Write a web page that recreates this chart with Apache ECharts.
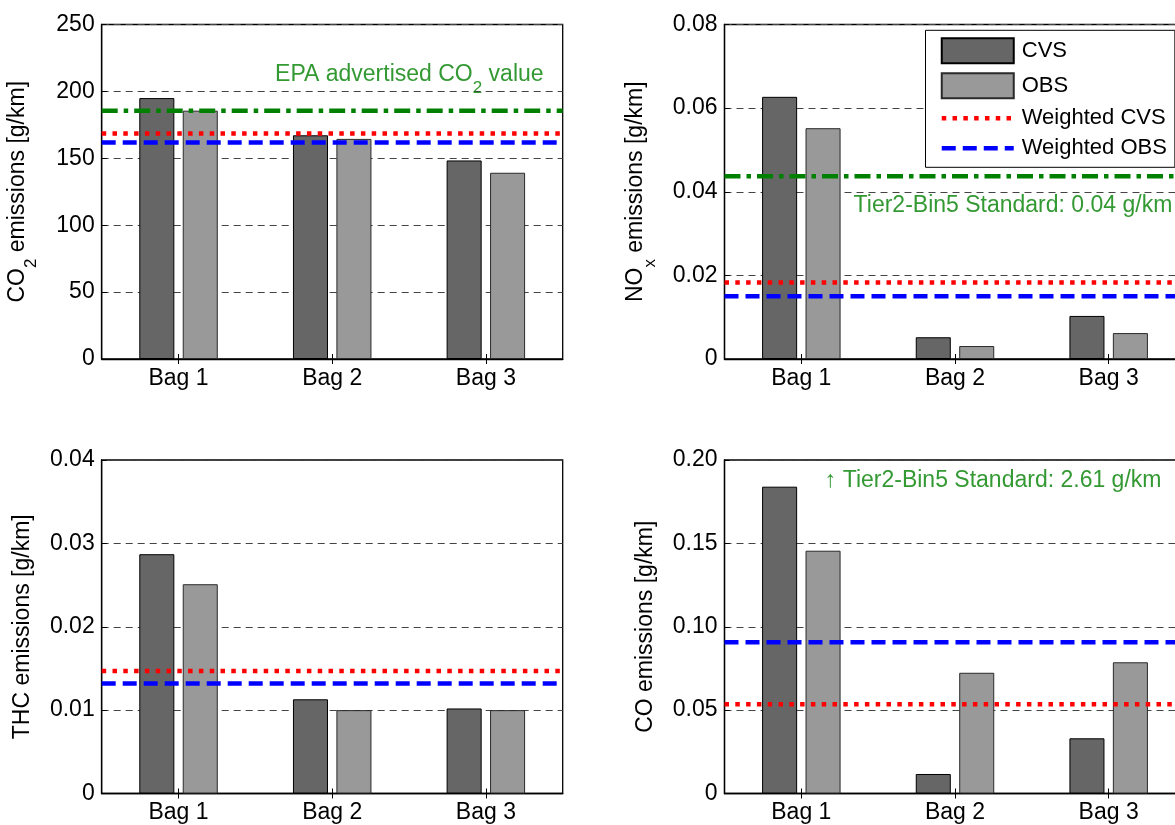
<!DOCTYPE html>
<html><head><meta charset="utf-8">
<script src="https://cdn.jsdelivr.net/npm/echarts@6/dist/echarts.min.js"></script>
<style>html,body{margin:0;padding:0;background:#fff;overflow:hidden}#c{width:1175px;height:825px}</style>
</head><body><div id="c"></div>
<script>
// ---------- data ----------
const categories = ['Bag 1', 'Bag 2', 'Bag 3'];

const co2CVS = [195.0, 167.2, 148.4];
const co2OBS = [185.6, 164.5, 139.2];
const co2WeightedCVS = 168.5;
const co2WeightedOBS = 161.8;
const co2EPA = 185.5;
const co2Ticks = ['0', '50', '100', '150', '200', '250'];

const noxCVS = [0.0627, 0.0052, 0.0103];
const noxOBS = [0.0552, 0.0031, 0.0062];
const noxWeightedCVS = 0.0183;
const noxWeightedOBS = 0.0150;
const noxStandard = 0.0437;
const noxTicks = ['0', '0.02', '0.04', '0.06', '0.08'];

const thcCVS = [0.0287, 0.0113, 0.0102];
const thcOBS = [0.0251, 0.0100, 0.0100];
const thcWeightedCVS = 0.0147;
const thcWeightedOBS = 0.0132;
const thcTicks = ['0', '0.01', '0.02', '0.03', '0.04'];

const coCVS = [0.184, 0.0117, 0.0331];
const coOBS = [0.1456, 0.0724, 0.0787];
const coWeightedCVS = 0.0535;
const coWeightedOBS = 0.0907;
const coTicks = ['0', '0.05', '0.10', '0.15', '0.20'];

// ---------- layout / style ----------
const FONT = "'Liberation Sans', Arial, Helvetica, sans-serif";
const GREEN = '#008000';
const PLOT_W = 461;
const FS = 23;

const panels = [
  { cvs: co2CVS, obs: co2OBS, wcvs: co2WeightedCVS, wobs: co2WeightedOBS, std: co2EPA, ticks: co2Ticks,
    max: 250, interval: 50, name: '{n|CO}{s|2}{n| emissions [g/km]}', left: 101.7, top: 24.5, height: 334.5, nameGap: 62,
    note: { text: '{n|EPA advertised CO}{s|2}{n| value}', x: 0.376, y: 221 } },
  { cvs: noxCVS, obs: noxOBS, wcvs: noxWeightedCVS, wobs: noxWeightedOBS, std: noxStandard, ticks: noxTicks,
    max: 0.08, interval: 0.02, name: '{n|NO}{s|x}{n| emissions [g/km]}', left: 724.5, top: 24.5, height: 334.5, nameGap: 66,
    note: { text: '{n|Tier2-Bin5 Standard: 0.04 g/km}', x: 0.28, y: 0.0394 } },
  { cvs: thcCVS, obs: thcOBS, wcvs: thcWeightedCVS, wobs: thcWeightedOBS, std: null, ticks: thcTicks,
    max: 0.04, interval: 0.01, name: '{n|THC emissions [g/km]}', left: 101.7, top: 460, height: 333.5, nameGap: 68,
    note: null },
  { cvs: coCVS, obs: coOBS, wcvs: coWeightedCVS, wobs: coWeightedOBS, std: null, ticks: coTicks,
    max: 0.20, interval: 0.05, name: '{n|CO emissions [g/km]}', left: 724.5, top: 460, height: 333.5, nameGap: 67,
    note: { text: '{n|\u2191 Tier2-Bin5 Standard: 2.61 g/km}', x: 0.2176, y: 0.1948 } }
];

const richText = {
  n: { fontSize: FS, fontFamily: FONT, verticalAlign: 'top' },
  s: { fontSize: 17, fontFamily: FONT, verticalAlign: 'bottom', padding: [17, 0, 0, 0] }
};

const grids = [], xAxes = [], yAxes = [], series = [];
const N = panels.length;

panels.forEach((p, i) => {
  grids.push({ left: p.left, top: p.top, width: PLOT_W, height: p.height, show: true,
    borderColor: '#000', borderWidth: 1.3, backgroundColor: '#fff', containLabel: false, outerBoundsMode: 'none' });
});
// bottom category axes
panels.forEach((p, i) => {
  xAxes.push({ type: 'category', gridIndex: i, data: categories, position: 'bottom',
    axisLine: { show: true, onZero: false, lineStyle: { color: '#000', width: 1.3 } },
    axisTick: { show: true, inside: true, alignWithLabel: true, length: 5, lineStyle: { color: '#000' } },
    axisLabel: { fontSize: FS, fontFamily: FONT, color: '#000', margin: 8, interval: 0 },
    splitLine: { show: false } });
});
// top category axes (ticks only)
panels.forEach((p, i) => {
  xAxes.push({ type: 'category', gridIndex: i, data: categories, position: 'top',
    axisLine: { show: false },
    axisTick: { show: true, inside: true, alignWithLabel: true, length: 5, lineStyle: { color: '#000' } },
    axisLabel: { show: false }, splitLine: { show: false } });
});
// hidden value axes spanning the full plot width (for horizontal reference lines & notes)
panels.forEach((p, i) => {
  xAxes.push({ type: 'value', gridIndex: i, min: 0, max: 1, show: false });
});

panels.forEach((p, i) => {
  yAxes.push({ type: 'value', gridIndex: i, min: 0, max: p.max, interval: p.interval,
    axisLine: { show: true, onZero: false, lineStyle: { color: '#000', width: 1.3 } },
    axisTick: { show: true, inside: true, length: 5, lineStyle: { color: '#000' } },
    axisLabel: { fontSize: FS, fontFamily: FONT, color: '#000', margin: 7,
      formatter: (v, idx) => p.ticks[idx] },
    splitLine: { show: true, lineStyle: { color: '#444', width: 1, type: [7, 5] } },
    name: p.name, nameLocation: 'middle', nameRotate: 90, nameGap: p.nameGap,
    nameTextStyle: { fontSize: FS, fontFamily: FONT, color: '#000', rich: richText } });
});

panels.forEach((p, i) => {
  series.push({ name: 'CVS', type: 'bar', xAxisIndex: i, yAxisIndex: i, data: p.cvs,
    barWidth: '22.8%', barGap: '24%', z: 2, silent: true,
    itemStyle: { color: '#666666', borderColor: '#000', borderWidth: 1 } });
  series.push({ name: 'OBS', type: 'bar', xAxisIndex: i, yAxisIndex: i, data: p.obs,
    barWidth: '22.8%', barGap: '24%', z: 2, silent: true,
    itemStyle: { color: '#999999', borderColor: '#2a2a2a', borderWidth: 1 } });
  const vx = 2 * N + i;
  if (p.std !== null) {
    series.push({ name: 'Standard', type: 'line', xAxisIndex: vx, yAxisIndex: i, silent: true, z: 3,
      symbol: 'none', data: [[0, p.std], [1, p.std]],
      lineStyle: { color: GREEN, width: 4.5, type: [16, 6, 4.5, 6] } });
  }
  series.push({ name: 'Weighted CVS', type: 'line', xAxisIndex: vx, yAxisIndex: i, silent: true, z: 3,
    symbol: 'none', data: [[0, p.wcvs], [1, p.wcvs]],
    lineStyle: { color: '#ff0000', width: 4.5, type: [4.5, 6.3] } });
  series.push({ name: 'Weighted OBS', type: 'line', xAxisIndex: vx, yAxisIndex: i, silent: true, z: 3,
    symbol: 'none', data: [[0, p.wobs], [1, p.wobs]],
    lineStyle: { color: '#0000ff', width: 4.5, type: [14, 7] } });
  if (p.note) {
    series.push({ name: 'note' + i, type: 'scatter', xAxisIndex: vx, yAxisIndex: i, silent: true, z: 5,
      symbolSize: 0, data: [[p.note.x, p.note.y]],
      label: { show: true, position: [0, 0], align: 'left', verticalAlign: 'top',
        formatter: p.note.text, color: GREEN, fontSize: FS, fontFamily: FONT,
        rich: { n: { fontSize: FS, fontFamily: FONT, verticalAlign: 'top', color: GREEN },
                s: { fontSize: 17, fontFamily: FONT, verticalAlign: 'bottom', color: GREEN, padding: [17, 0, 0, 0] } } } });
  }
});

const chart = echarts.init(document.getElementById('c'), null, { renderer: 'canvas' });
chart.setOption({
  animation: false,
  backgroundColor: '#fff',
  grid: grids,
  xAxis: xAxes,
  yAxis: yAxes,
  legend: {
    orient: 'vertical', left: 925.5, top: 30.3, selectedMode: false,
    backgroundColor: '#fff', borderColor: '#000', borderWidth: 1,
    padding: [7, 8, 8, 14], itemWidth: 72, itemHeight: 25, itemGap: 8,
    textStyle: { fontSize: 22, fontFamily: FONT, color: '#000', padding: [0, 0, 0, 3] },
    lineStyle: { width: 4.5 },
    data: [
      { name: 'CVS', icon: 'rect' },
      { name: 'OBS', icon: 'rect' },
      { name: 'Weighted CVS', itemStyle: { opacity: 0 } },
      { name: 'Weighted OBS', itemStyle: { opacity: 0 } }
    ]
  },
  series: series
});
</script></body></html>
